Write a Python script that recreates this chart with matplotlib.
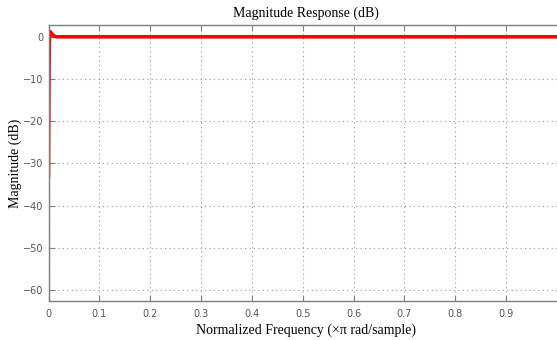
import numpy as np
import matplotlib
matplotlib.use("Agg")
import matplotlib.pyplot as plt

# values (normalized freq, dB)
freq = [0.0, 0.0005, 0.001, 0.0015, 0.002, 0.003, 0.004, 0.006, 0.008, 0.010,
        0.013, 0.016, 0.020, 0.05, 0.1, 0.2, 0.3, 0.4, 0.5, 0.6, 0.7, 0.8, 0.9, 1.0]
mag_db = [-33.0, -20.0, -8.0, -2.5, -0.2, 1.0, 1.1, 0.8, 0.5, 0.2,
          0.1, 0.0, 0.0, 0.0, 0.0, 0.0, 0.0, 0.0, 0.0, 0.0, 0.0, 0.0, 0.0, 0.0]
xticks = [0, 0.1, 0.2, 0.3, 0.4, 0.5, 0.6, 0.7, 0.8, 0.9]
yticks = [0, -10, -20, -30, -40, -50, -60]

serif = "Liberation Serif"
grey = "#7f7f7f"

fig = plt.figure(figsize=(5.57, 3.40), dpi=100)
# right edge runs off the picture, as in the original
ax = fig.add_axes([0.0871, 0.1147, 0.9229, 0.8118])

ax.plot(freq, mag_db, color="red", lw=2.6, solid_joinstyle="miter")

ax.set_xlim(0, 1.011)
ax.set_ylim(-62.6, 2.8)
ax.set_xticks(xticks)
ax.set_xticklabels([str(t) for t in xticks])
ax.set_yticks(yticks)
ax.grid(True, color="#999999", linestyle=(0, (1, 3)), lw=0.8)

for s in ax.spines.values():
    s.set_color(grey)
    s.set_linewidth(1.0)
ax.tick_params(direction="in", top=True, right=False, length=4, color=grey,
               labelcolor="#555555", labelsize=7)
ax.tick_params(axis="x", pad=6)

ax.set_title("Magnitude Response (dB)", family=serif, fontsize=10, pad=6)
ax.set_xlabel("Normalized Frequency (\u00d7\u03c0 rad/sample)", family=serif, fontsize=10, labelpad=3)
ax.set_ylabel("Magnitude (dB)", family=serif, fontsize=10, labelpad=1)

fig.savefig("out.png", dpi=100)
